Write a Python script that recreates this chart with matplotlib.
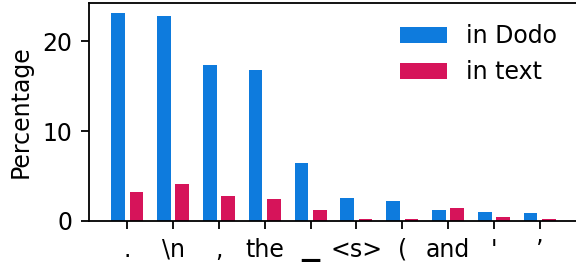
import matplotlib

matplotlib.use("Agg")
import matplotlib.pyplot as plt
import numpy as np

tokens = [".", "\\n", ",", "the", "\u2581", "<s>", "(", "and", "'", "\u2019"]
in_dodo = [23.1, 22.8, 17.4, 16.8, 6.5, 2.6, 2.25, 1.25, 1.0, 0.9]
in_text = [3.25, 4.15, 2.8, 2.45, 1.25, 0.22, 0.22, 1.45, 0.45, 0.22]

BLUE = "#0E7BDD"
RED = "#D6145A"

plt.rcParams["font.family"] = ["DejaVu Sans"]
plt.rcParams["font.size"] = 17

fig = plt.figure(figsize=(5.76, 2.64), dpi=100)
ax = fig.add_axes([89 / 576, 43 / 264, 489 / 576, 218 / 264])

x = np.arange(len(tokens))
width = 0.3
ax.bar(x - 0.2, in_dodo, width, color=BLUE, label="in Dodo")
ax.bar(x + 0.2, in_text, width, color=RED, label="in text")

ax.set_xticks(x)
ax.set_xticklabels(tokens)
ax.set_yticks([0, 10, 20])
ax.set_ylabel("Percentage", labelpad=7)
ax.spines["right"].set_visible(False)
for s in ax.spines.values():
    s.set_linewidth(1.3)
ax.tick_params(length=6, width=1.3, pad=6)
ax.legend(frameon=False, loc="upper right")

fig.savefig("out.png", dpi=100)
